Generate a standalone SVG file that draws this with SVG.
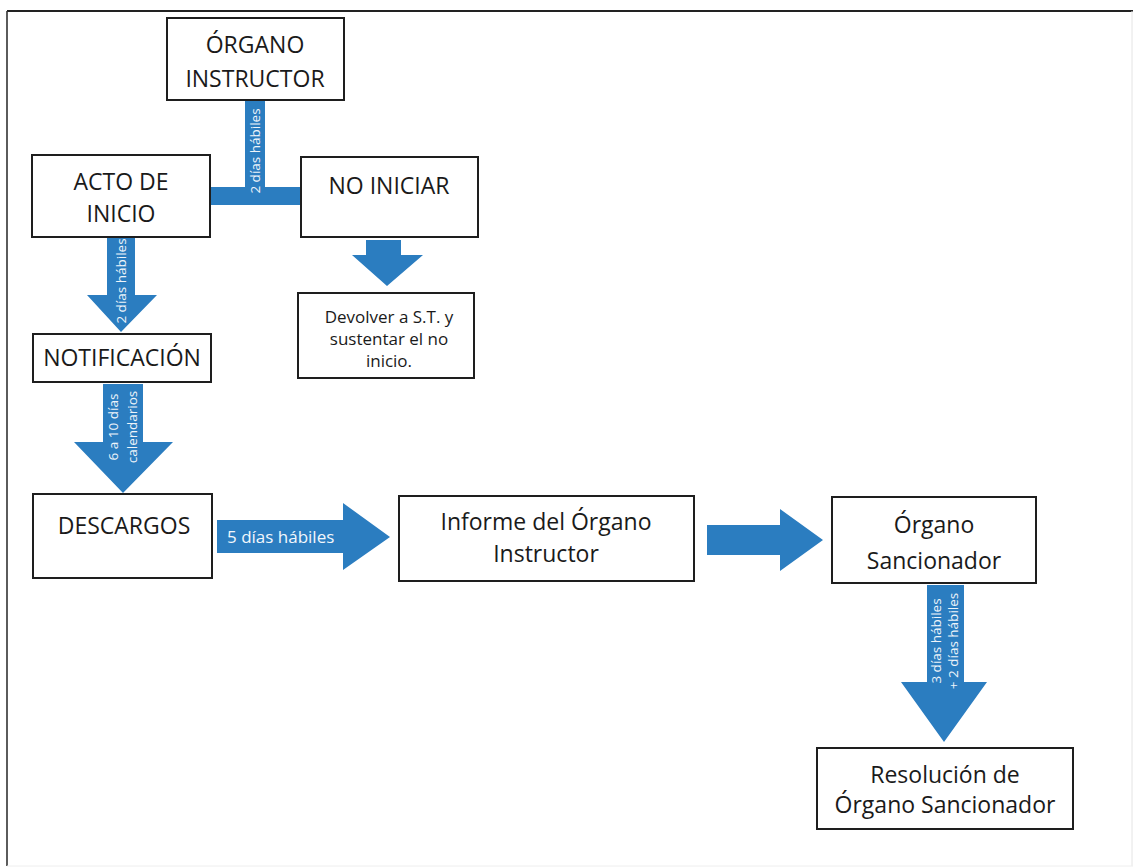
<svg xmlns="http://www.w3.org/2000/svg" width="1134" height="868" viewBox="0 0 1134 868">
<style>
.box{fill:#fff;stroke:#1e1e1e;stroke-width:2}
.t{font-family:"Open Sans","Liberation Sans",sans-serif;font-size:23px;fill:#1a1a1a;text-anchor:middle}
.ts{font-family:"Open Sans","Liberation Sans",sans-serif;font-size:17px;fill:#1a1a1a;text-anchor:middle}
.ar{fill:#2b7dc0}
.lb{font-family:"Open Sans","Liberation Sans",sans-serif;font-size:13.5px;fill:#eef4fa;text-anchor:middle}
.lh{font-family:"Open Sans","Liberation Sans",sans-serif;font-size:17px;fill:#f2f7fc}
</style>
<rect x="0" y="0" width="1134" height="868" fill="#fff"/>
<g id="frame">
<line x1="7" y1="11" x2="1133" y2="11" stroke="#222" stroke-width="2"/>
<line x1="7" y1="11" x2="7" y2="866" stroke="#333" stroke-width="1.6"/>
<line x1="1132" y1="11" x2="1132" y2="866" stroke="#e4e4e4" stroke-width="1"/>
<line x1="7" y1="866" x2="1133" y2="866" stroke="#eee" stroke-width="1"/>
</g>
<g id="connectors">
<path class="ar" d="M245,100 H265 V187 H301 V205 H210 V187 H245 Z"/>
<text class="lb" transform="translate(260,151) rotate(-90)">2 días hábiles</text>
<path class="ar" d="M107,238 H135 V295 H157 L121,332 L87,295 H107 Z"/>
<text class="lb" font-size="13" transform="translate(126,281) rotate(-90)">2 días hábiles</text>
<path class="ar" d="M366,240 H401 V255 H423 L387,286 L352,255 H366 Z"/>
<path class="ar" d="M103,384 H143 V442 H173 L123,493 L74,442 H103 Z"/>
<text class="lb" font-size="15" transform="translate(118,427) rotate(-90)">6 a 10 días</text>
<text class="lb" font-size="15" transform="translate(137,427) rotate(-90)">calendarios</text>
<path class="ar" d="M217,520 H343 V503 L390,537 L343,570 V553 H217 Z"/>
<text class="lh" x="227" y="543">5 días hábiles</text>
<path class="ar" d="M707,525 H780 V509 L823,540 L780,571 V555 H707 Z"/>
<path class="ar" d="M927,585 H964 V682 H987 L944,742 L901,682 H927 Z"/>
<text class="lb" font-size="14.5" transform="translate(941,641) rotate(-90)">3 días hábiles</text>
<text class="lb" font-size="14.5" transform="translate(958,641) rotate(-90)">+ 2 días hábiles</text>
</g>
<g id="organo-instructor">
<rect class="box" x="167" y="18" width="177" height="82"/>
<text class="t" x="255" y="53">ÓRGANO</text>
<text class="t" x="255" y="87">INSTRUCTOR</text>
</g>
<g id="acto-de-inicio">
<rect class="box" x="32" y="155" width="178" height="82"/>
<text class="t" x="121" y="190">ACTO DE</text>
<text class="t" x="121" y="222">INICIO</text>
</g>
<g id="no-iniciar">
<rect class="box" x="301" y="157" width="177" height="80"/>
<text class="t" x="389" y="194">NO INICIAR</text>
</g>
<g id="devolver">
<rect class="box" x="298" y="293" width="176" height="85"/>
<text class="ts" x="389" y="323">Devolver a S.T. y</text>
<text class="ts" x="389" y="345">sustentar el no</text>
<text class="ts" x="389" y="367">inicio.</text>
</g>
<g id="notificacion">
<rect class="box" x="33" y="334" width="178" height="48"/>
<text class="t" font-size="20.5" x="122" y="366">NOTIFICACIÓN</text>
</g>
<g id="descargos">
<rect class="box" x="33" y="494" width="179" height="84"/>
<text class="t" font-size="22" x="124" y="534">DESCARGOS</text>
</g>
<g id="informe">
<rect class="box" x="399" y="496" width="295" height="85"/>
<text class="t" x="546" y="530">Informe del Órgano</text>
<text class="t" x="546" y="562">Instructor</text>
</g>
<g id="organo-sancionador">
<rect class="box" x="832" y="497" width="204" height="86"/>
<text class="t" x="934" y="533">Órgano</text>
<text class="t" x="934" y="569">Sancionador</text>
</g>
<g id="resolucion">
<rect class="box" x="817" y="748" width="256" height="81"/>
<text class="t" x="945" y="783">Resolución de</text>
<text class="t" x="945" y="813">Órgano Sancionador</text>
</g>
</svg>
